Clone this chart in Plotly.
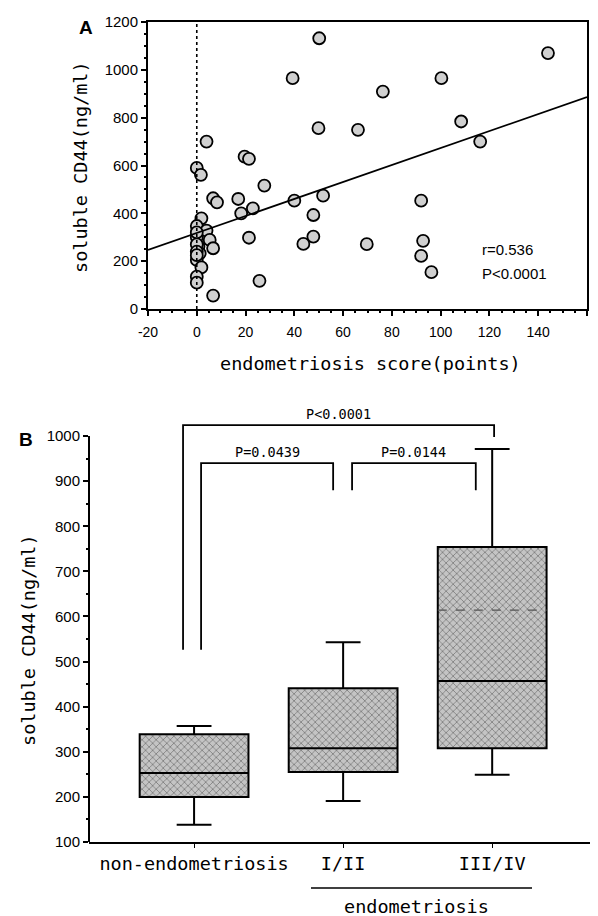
import plotly.graph_objects as go

# ---------------- Panel A data ----------------
score = [4, 0, 1.7, 6.7, 8.3, 17, 19.6, 21.4, 27.7, 18.2, 23, 21.4, 25.7, 6.7,
         1.9, 0, 4, 5.3, 0.7, 6.7, 1.2, 0, 1.9, 0, 0, 0, 0, 0, 0, 0,
         50.2, 39.3, 49.9, 66.1, 76.3, 100.3, 108.4, 116.2, 144, 40, 51.8,
         47.8, 47.8, 43.7, 69.7, 92, 92.8, 92, 96.2]
cd44 = [700, 590, 561, 463, 446, 460, 637, 628, 516, 400, 421, 298, 118, 56,
        379, 347, 328, 289, 261, 254, 233, 205, 174, 135, 110, 300, 320, 270, 240, 225,
        1132, 965, 756, 749, 909, 965, 784, 700, 1070, 453, 474,
        393, 303, 272, 271, 453, 285, 222, 154]
fit_x = [-20, 160]
fit_slope = 3.55
fit_intercept = 318
x_ticks_a = [-20, 0, 20, 40, 60, 80, 100, 120, 140, 160]
x_tick_labels_a = ["-20", "0", "20", "40", "60", "80", "100", "120", "140", "160"]
y_ticks_a = [0, 200, 400, 600, 800, 1000, 1200]

# ---------------- Panel B data ----------------
groups = ["non-endometriosis", "I/II", "III/IV"]
group_pos = [0, 1, 2]
q1 = [200, 255, 308]
median = [253, 308, 457]
q3 = [339, 441, 754]
low_whisker = [138, 191, 249]
high_whisker = [357, 543, 971]
iii_iv_faint_line = 614
y_ticks_b = [100, 200, 300, 400, 500, 600, 700, 800, 900, 1000]
y_minor_b = [150, 250, 350, 450, 550, 650, 750, 850, 950]
# brackets: (left x, right x, top y, left foot y, right foot y, label)
brackets = [
    (-0.074, 2.013, 1024, 526, 998, "P<0.0001"),
    (0.047, 0.933, 940, 526, 880, "P=0.0439"),
    (1.06, 1.89, 940, 880, 880, "P=0.0144"),
]
BOX_W = 0.73

# page body has an 8px margin: the figure starts at (8, 8) in the window
OFF = 8
W, H = 598 - OFF, 916 - OFF
def px(x):
    return (x - OFF) / W
def py(y):
    return 1 - (y - OFF) / H

MONO = "DejaVu Sans Mono"
SANS = "Liberation Sans"

fig = go.Figure()

# Panel A scatter
fig.add_trace(go.Scatter(
    x=score, y=cd44, mode="markers",
    marker=dict(size=12, color="#d0d0d0", line=dict(color="black", width=1.8)),
    xaxis="x", yaxis="y", showlegend=False, cliponaxis=False))
fig.add_trace(go.Scatter(
    x=fit_x, y=[fit_intercept + fit_slope * v for v in fit_x], mode="lines",
    line=dict(color="black", width=1.8), xaxis="x", yaxis="y", showlegend=False))

# Panel B boxes: hatched fill via bars, outline via box
fig.add_trace(go.Bar(
    x=group_pos, y=[b - a for a, b in zip(q1, q3)], base=q1, width=BOX_W,
    marker=dict(color="#c4c4c4", line=dict(width=0),
                pattern=dict(shape="x", fgcolor="#3a3a3a", bgcolor="#c4c4c4",
                             size=5, solidity=0.3)),
    xaxis="x2", yaxis="y2", showlegend=False, hoverinfo="skip"))
fig.add_trace(go.Scatter(
    x=[group_pos[2] - BOX_W / 2, group_pos[2] + BOX_W / 2],
    y=[iii_iv_faint_line, iii_iv_faint_line], mode="lines",
    line=dict(color="#555555", width=1.2, dash="dash"),
    xaxis="x2", yaxis="y2", showlegend=False, hoverinfo="skip"))
fig.add_trace(go.Box(
    x=group_pos, q1=q1, median=median, q3=q3,
    lowerfence=low_whisker, upperfence=high_whisker,
    width=BOX_W, whiskerwidth=0.32, fillcolor="rgba(0,0,0,0)",
    line=dict(color="black", width=2), xaxis="x2", yaxis="y2",
    showlegend=False, boxpoints=False))

shapes = []
annotations = []

# vertical dotted line at x = 0 in A
shapes.append(dict(type="line", xref="x", yref="y domain", x0=0, x1=0, y0=0, y1=1,
                   line=dict(color="black", width=1.6, dash="dot")))

# Panel B y axis line (100 to 1000)
shapes.append(dict(type="line", xref="x2 domain", yref="y2", x0=0, x1=0, y0=100, y1=1000,
                   line=dict(color="black", width=2)))

for (xl, xr, yt, yl, yr, lab) in brackets:
    shapes.append(dict(type="path", xref="x2", yref="y2",
                       path=f"M {xl} {yl} L {xl} {yt} L {xr} {yt} L {xr} {yr}",
                       line=dict(color="black", width=1.8)))
    annotations.append(dict(xref="x2", yref="y2", x=(xl + xr) / 2, y=yt,
                            text=lab, showarrow=False, xanchor="center", yanchor="bottom",
                            yshift=1, font=dict(family=MONO, size=13.5, color="black")))

# endometriosis underline
shapes.append(dict(type="line", xref="paper", yref="paper", x0=px(311), x1=px(532),
                   y0=py(888), y1=py(888), line=dict(color="black", width=1.6)))

TF = dict(family=MONO, size=18.5, color="black")

def note(x, y, text, font, angle=0, xanchor="center"):
    return dict(xref="paper", yref="paper", x=px(x), y=py(y), text=text, showarrow=False,
                xanchor=xanchor, yanchor="middle", textangle=angle, font=font)

annotations += [
    note(86, 28, "<b>A</b>", dict(family=SANS, size=19, color="black")),
    note(26, 440, "<b>B</b>", dict(family=SANS, size=19, color="black")),
    note(81, 167, "soluble CD44(ng/ml)", TF, angle=-90),
    note(370, 364, "endometriosis score(points)", TF),
    note(28, 640, "soluble CD44(ng/ml)", TF, angle=-90),
    note(417, 906, "endometriosis", TF),
    note(480, 249, "r=0.536", dict(family=SANS, size=15, color="black"), xanchor="left"),
    note(480, 274, "P<0.0001", dict(family=SANS, size=15, color="black"), xanchor="left"),
]

fig.update_layout(
    width=W, height=H, margin=dict(l=0, r=0, t=0, b=0, pad=0, autoexpand=False),
    paper_bgcolor="white", plot_bgcolor="white", showlegend=False,
    shapes=shapes, annotations=annotations,
    xaxis=dict(domain=[px(148), px(587)], range=[-20, 160], anchor="y", automargin=False,
               tickvals=x_ticks_a, ticktext=x_tick_labels_a,
               showline=True, mirror=True, linecolor="black", linewidth=2,
               ticks="outside", ticklen=5, tickwidth=1.5, tickcolor="black",
               ticklabelstandoff=4,
               minor=dict(dtick=5, ticks="outside", ticklen=2, tickcolor="black"),
               showgrid=False, zeroline=False,
               tickfont=dict(family=SANS, size=14, color="black")),
    yaxis=dict(domain=[py(309), py(22)], range=[0, 1200], anchor="x", automargin=False,
               tickvals=y_ticks_a, showline=True, mirror=True, linecolor="black", linewidth=2,
               ticks="outside", ticklen=5, tickwidth=1.5, tickcolor="black",
               minor=dict(dtick=50, ticks="outside", ticklen=2, tickcolor="black"),
               showgrid=False, zeroline=False,
               tickfont=dict(family=SANS, size=15, color="black")),
    xaxis2=dict(domain=[px(89), 1.0], range=[-0.705, 2.71], anchor="y2", automargin=False,
                tickvals=group_pos, ticktext=groups, showline=True, linecolor="black", linewidth=2,
                ticks="outside", ticklen=4, tickcolor="black", showgrid=False, zeroline=False,
                tickfont=TF),
    yaxis2=dict(domain=[py(842), py(418)], range=[100, 1040], anchor="x2", automargin=False,
                tickvals=y_ticks_b, showline=False,
                ticks="outside", ticklen=5, tickwidth=1.5, tickcolor="black",
                minor=dict(tickvals=y_minor_b, ticks="outside", ticklen=2, tickcolor="black"),
                showgrid=False, zeroline=False,
                tickfont=dict(family=SANS, size=15, color="black")),
)

fig.write_html("out.html")
